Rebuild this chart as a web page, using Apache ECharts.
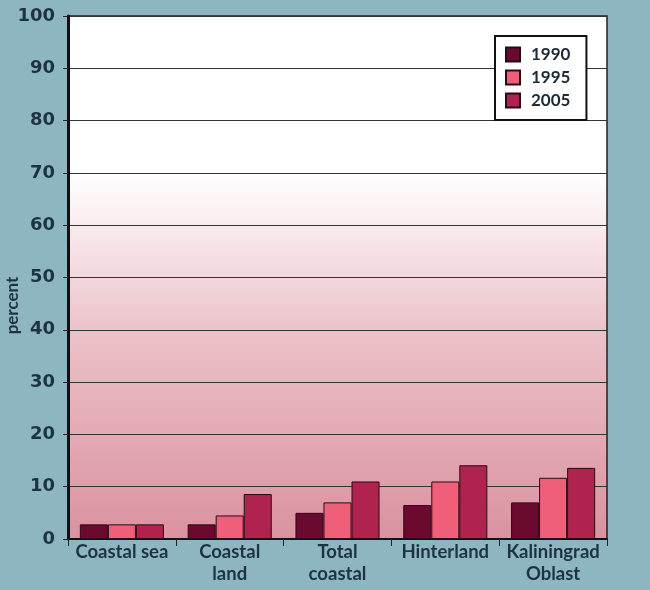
<!DOCTYPE html>
<html><head><meta charset="utf-8">
<script src="https://cdn.jsdelivr.net/npm/echarts@6/dist/echarts.min.js"></script>
<style>html,body{margin:0;padding:0;background:#8db6c2;}#c{width:650px;height:590px;}</style>
</head><body><div id="c"></div>
<script>
const categories = ["Coastal sea", "Coastal\nland", "Total\ncoastal", "Hinterland", "Kaliningrad\nOblast"];
const v1990 = [2.8, 2.8, 5.0, 6.5, 7.0];
const v1995 = [2.8, 4.5, 7.0, 11.0, 11.7];
const v2005 = [2.8, 8.6, 11.0, 14.1, 13.6];
const seriesNames = ["1990", "1995", "2005"];
const yTicks = [0, 10, 20, 30, 40, 50, 60, 70, 80, 90, 100];

const colors = ["#6b0a2e", "#ef5f7a", "#b0234f"];
const font = "Lato";
const chart = echarts.init(document.getElementById('c'), null, {renderer: 'canvas'});
const mk = (name, data, i) => ({
  name, type: 'bar', data, barGap: '0%', barCategoryGap: '22%',
  itemStyle: {color: colors[i], borderColor: '#2a0a18', borderWidth: 1}
});
chart.setOption({
  backgroundColor: '#8db6c2',
  animation: false,
  grid: {left: 68, right: 43, top: 16, bottom: 51, containLabel: false, outerBoundsMode: 'none',
    show: true, borderColor: '#222', borderWidth: 1.5,
    backgroundColor: {type: 'linear', x: 0, y: 0, x2: 0, y2: 1, colorStops: [
      {offset: 0, color: '#ffffff'}, {offset: 0.3, color: '#ffffff'}, {offset: 0.62, color: '#ebbfc7'}, {offset: 1, color: '#da929f'}]}},
  legend: {
    left: 495, top: 36, orient: 'vertical', data: seriesNames,
    backgroundColor: '#ffffff', borderColor: '#111', borderWidth: 2, borderRadius: 0,
    padding: [10, 16, 11, 10], itemGap: 6, itemWidth: 14, itemHeight: 14, icon: 'rect',
    textStyle: {fontFamily: font, fontSize: 17, fontWeight: 'bold', color: '#1d2b38', padding: [0, 0, 0, 6]}
  },
  xAxis: {
    type: 'category', data: categories,
    axisLine: {lineStyle: {color: '#111', width: 2}},
    axisTick: {show: true, length: 7, lineStyle: {color: '#222'}},
    axisLabel: {interval: 0, hideOverlap: false, fontFamily: font, fontSize: 18.5, fontWeight: 'bold', color: '#1d3345', lineHeight: 22, margin: 2}
  },
  yAxis: {
    type: 'value', min: 0, max: 100, interval: 10,
    name: 'percent', nameLocation: 'middle', nameGap: 47, nameMoveOverlap: false,
    nameTextStyle: {fontFamily: font, fontSize: 17, fontWeight: 'bold', color: '#1d3345', padding: [0, 56, 0, 0]},
    axisLine: {show: true, lineStyle: {color: '#111', width: 3}},
    axisTick: {show: true, length: 5, lineStyle: {color: '#222'}},
    axisLabel: {fontFamily: 'DejaVu Sans', fontSize: 18, fontWeight: 'bold', color: '#1d3345', margin: 13,
      formatter: v => yTicks.includes(v) ? String(v) : ''},
    splitLine: {lineStyle: {color: '#333', width: 1.2}}
  },
  series: [mk(seriesNames[0], v1990, 0), mk(seriesNames[1], v1995, 1), mk(seriesNames[2], v2005, 2)]
});
</script></body></html>
